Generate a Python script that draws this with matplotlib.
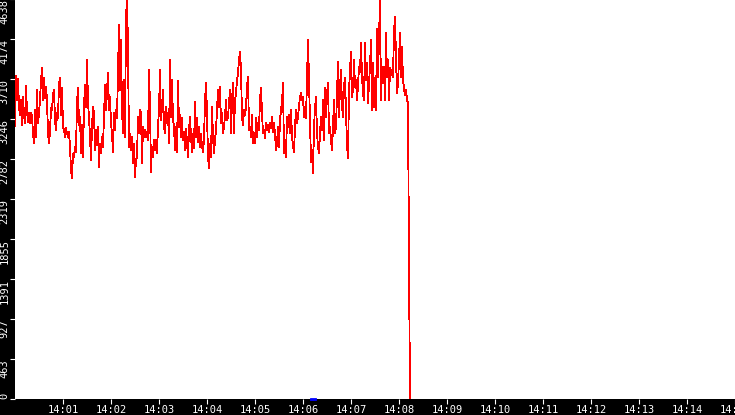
import numpy as np
import pandas as pd
import matplotlib
matplotlib.use("Agg")
from matplotlib import pyplot as plt
import matplotlib.dates as mdates

################################ data ################################
# red series, one sample every 1.25 s starting 14:00:00
red_vals = [
    3165, 3745, 3466, 3710, 3389, 3293, 3466, 3177, 3505, 3293,
    3196, 3629, 3331, 3215, 3312, 3204, 3320, 3273, 3080, 2964,
    3351, 3041, 3583, 3196, 3312, 3466, 3698, 3834, 3466, 3718,
    3486, 3621, 3466, 3080, 2964, 3099, 3370, 3351, 3524, 3583,
    3235, 3119, 3312, 3254, 3660, 3718, 3293, 3602, 3157, 3119,
    3041, 3138, 3080, 3041, 3099, 2925, 2655, 2558, 2848, 2809,
    2925, 2867, 3447, 3602, 3177, 3273, 2848, 3177, 2809, 3389,
    3640, 3389, 3930, 3428, 3273, 3041, 2771, 3157, 3389, 3312,
    # 14:01:40
    2887, 3119, 2945, 3157, 2694, 2964, 2848, 3041, 2925, 3273,
    3640, 3351, 3563, 3776, 3351, 3505, 3196, 3080, 2867, 3312,
    3119, 3351, 3254, 3776, 4336, 3583, 4162, 3351, 3080, 3698,
    3041, 4433, 4630, 4085, 2925, 3080, 2887, 3041, 2732, 2964,
    2578, 2771, 2809, 3273, 3080, 3351, 3312, 2732, 3157, 3041,
    3119, 3041, 3099, 3003, 3814, 3389, 2636, 2925, 2809, 3003,
    2887, 3003, 2848, 3157, 3351, 3814, 3235, 3389, 3583, 3157,
    3080, 3389, 3196, 3312, 2964, 3930, 3273, 3698, 3235, 3157,
    # 14:03:20
    2887, 3157, 2867, 3687, 3157, 3293, 3041, 3254, 3003, 3099,
    2887, 3138, 2964, 2809, 3119, 3273, 3041, 2867, 3080, 2906,
    3447, 3041, 3254, 2983, 3157, 2925, 3080, 2925, 2867, 3003,
    3466, 3660, 3312, 2809, 2674, 2964, 2809, 3389, 3041, 2848,
    3003, 3119, 3351, 3583, 3389, 3621, 3196, 3312, 3080, 3157,
    3273, 3466, 3235, 3273, 3428, 3583, 3080, 3466, 3660, 3080,
    3466, 3544, 3698, 3776, 3930, 4027, 3814, 3273, 3177, 3351,
    3293, 3389, 3621, 3737, 3119, 3157, 3041, 3293, 2964, 3080,
    # 14:05:00
    2964, 3254, 3041, 3196, 3119, 3486, 3602, 3312, 3080, 3119,
    3022, 3196, 3119, 3177, 3099, 3196, 3138, 3273, 3099, 3196,
    3080, 2887, 2964, 3157, 2925, 3235, 3351, 3447, 3660, 2848,
    3003, 2809, 3273, 3157, 3293, 3080, 3351, 3041, 2925, 2867,
    3157, 3351, 3196, 3273, 3389, 3505, 3544, 3466, 3505, 3273,
    3389, 3254, 3718, 4162, 3679, 3196, 2751, 2887, 2616, 3157,
    3370, 3505, 3080, 2925, 2848, 3080, 3273, 3119, 3466, 3003,
    3602, 3273, 3544, 3660, 3080, 3157, 3003, 2887, 3157, 3466,
    # 14:06:40
    3080, 3157, 3544, 3911, 3273, 3621, 3814, 3389, 3273, 3640,
    3718, 3312, 2945, 2790, 3563, 3814, 4027, 3505, 3583, 3930,
    3621, 3698, 3466, 3640, 3853, 3795, 4124, 3737, 3544, 3466,
    4124, 3698, 3892, 3428, 3660, 3853, 4162, 3351, 3892, 3389,
    3718, 3351, 4297, 3737, 4162, 4630, 3466, 3853, 3660, 3853,
    3466, 4240, 3737, 3930, 3466, 3834, 3756, 3814, 3737, 4259,
    4433, 3950, 3544, 3660, 3930, 4240, 3737, 4085, 3698, 3602,
    3524, 3583, 3466, 3428,
    # drop
    1588, 0,
]
# blue series, only a short stretch at zero
blue_times = ["2020-01-01 14:06:10", "2020-01-01 14:06:15"]
blue_vals = [0, 0]

ytick_vals = [0, 463.8, 927.6, 1391.4, 1855.2, 2319, 2782.8, 3246.6, 3710.4, 4174.2, 4638]
ytick_labels = ["0", "463", "927", "1391", "1855", "2319", "2782", "3246", "3710", "4174", "4638"]
xtick_times = pd.date_range("2020-01-01 14:01:00", "2020-01-01 14:15:00", freq="1min")

red_times = pd.date_range("2020-01-01 14:00:00", periods=len(red_vals), freq="1250ms")

################################ plot ################################
fig = plt.figure(figsize=(7.35, 4.15), dpi=100, facecolor="black")
ax = fig.add_axes([15 / 735, 16 / 415, 720 / 735, 400 / 415])
ax.set_facecolor("white")

ax.plot(red_times, red_vals, color="red", linewidth=0.6, antialiased=False)
ax.plot(pd.to_datetime(blue_times), blue_vals, color="blue", linewidth=2.0, clip_on=False)

ax.set_xlim(pd.Timestamp("2020-01-01 14:00:00"), pd.Timestamp("2020-01-01 14:15:00"))
ax.set_ylim(0, 4638)

for s in ax.spines.values():
    s.set_visible(False)

ax.set_xticks(xtick_times)
ax.xaxis.set_major_formatter(mdates.DateFormatter("%H:%M"))
ax.set_yticks(ytick_vals)
ax.set_yticklabels(ytick_labels, rotation=90, va="top", ha="right")
ax.get_yticklabels()[0].set_va("bottom")

ax.tick_params(axis="both", colors="white", length=3.8, width=0.8, direction="out", labelsize=7.5)
ax.tick_params(axis="y", pad=0.3)
ax.tick_params(axis="x", pad=0.3)
for lab in ax.get_xticklabels() + ax.get_yticklabels():
    lab.set_family("DejaVu Sans Mono")

plt.savefig("out.png", dpi=100, facecolor="black")
